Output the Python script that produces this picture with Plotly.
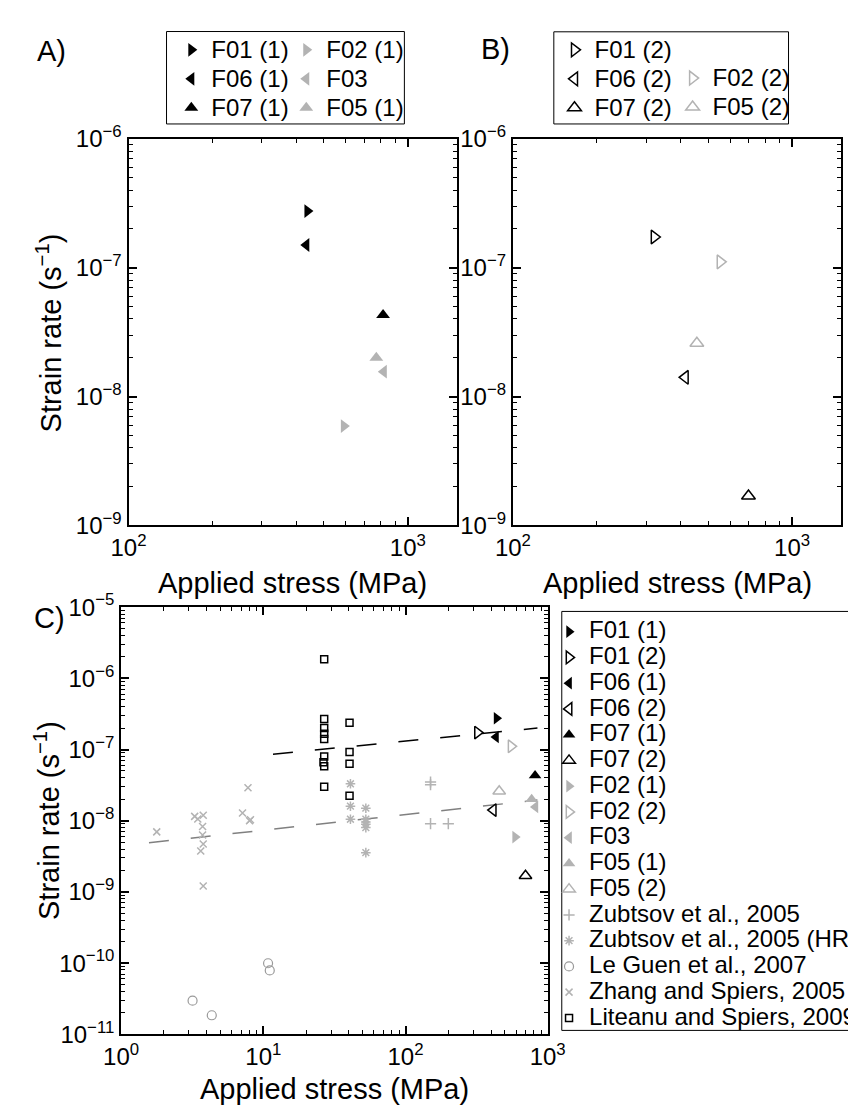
import math
import plotly.graph_objects as go

# ---- data ----
# this study, first and second runs: applied stress (MPa), strain rate (1/s)
stress_F01_1 = [437];  rate_F01_1 = [2.75e-7]
stress_F06_1 = [433];  rate_F06_1 = [1.50e-7]
stress_F07_1 = [815];  rate_F07_1 = [4.3e-8]
stress_F02_1 = [590];  rate_F02_1 = [5.9e-9]
stress_F03 = [820];    rate_F03 = [1.56e-8]
stress_F05_1 = [771];  rate_F05_1 = [2.0e-8]

stress_F01_2 = [321];  rate_F01_2 = [1.73e-7]
stress_F06_2 = [414];  rate_F06_2 = [1.41e-8]
stress_F07_2 = [698];  rate_F07_2 = [1.69e-9]
stress_F02_2 = [553];  rate_F02_2 = [1.11e-7]
stress_F05_2 = [456];  rate_F05_2 = [2.59e-8]

# literature data
zubtsov_stress = [150, 150, 150, 200]
zubtsov_rate = [3.5e-8, 3.2e-8, 9.1e-9, 9.1e-9]

zubtsov_hr_stress = [41, 41, 41, 52.6, 52.6, 52.6, 52.6, 52.6, 52.6]
zubtsov_hr_rate = [3.3e-8, 1.6e-8, 1.05e-8, 1.5e-8, 1.05e-8, 9.6e-9, 8.9e-9, 8.0e-9, 3.56e-9]

leguen_stress = [3.18, 4.34, 10.8, 11.1]
leguen_rate = [2.97e-11, 1.85e-11, 9.95e-11, 7.9e-11]

zhang_stress = [1.78, 3.29, 3.46, 3.78, 3.74, 3.74, 3.78, 3.63, 3.78, 7.14, 7.8, 8.12, 8.0]
zhang_rate = [6.97e-9, 1.15e-8, 1.06e-8, 1.19e-8, 8.3e-9, 6.3e-9, 4.7e-9, 3.75e-9,
              1.21e-9, 1.28e-8, 2.9e-8, 1.03e-8, 1.0e-8]

liteanu_stress = [26.8, 26.8, 26.8, 26.8, 26.8, 26.8, 26.5, 26.8, 26.8,
                  40.4, 40.4, 40.4, 40.4]
liteanu_rate = [1.85e-6, 2.68e-7, 2.0e-7, 1.67e-7, 1.40e-7, 8.0e-8, 6.6e-8, 5.8e-8, 3.0e-8,
                2.37e-7, 9.2e-8, 6.3e-8, 2.25e-8]

# dashed fit lines (end points)
fit_black_stress = [11.7, 847]
fit_black_rate = [8.6e-8, 2.0e-7]
fit_gray_stress = [1.57, 847]
fit_gray_rate = [4.9e-9, 1.95e-8]

# tick labels
ticks_ab_x = [100, 1000]
ticks_ab_y = [1e-9, 1e-8, 1e-7, 1e-6]
ticks_c_x = [1, 10, 100, 1000]
ticks_c_y = [1e-11, 1e-10, 1e-9, 1e-8, 1e-7, 1e-6, 1e-5]

# ---- styling ----
W, H = 856, 1111
FONT = "Liberation Sans"
GRAY = "#b3b3b3"
LGRAY = "#9a9a9a"


def px(x):
    return x / W


def py(y):
    return 1 - y / H


def pow_label(v):
    p = int(round(math.log10(v)))
    s = str(p).replace("-", "\u2212")
    return f"10<sup>{s}</sup>"


def lbl(name):
    # legend row spacing follows the legend font size, the text itself is drawn larger
    return f'<span style="font-size:24px">{name}</span>'


fig = go.Figure()


def add_pts(x, y, name, symbol, color, size, axis, legend, line_w=1.5, showlegend=True):
    fig.add_trace(go.Scatter(
        x=x, y=y, mode="markers", name=lbl(name),
        marker=dict(symbol=symbol, color=color, size=size,
                    line=dict(color=color, width=line_w)),
        xaxis="x" + axis, yaxis="y" + axis,
        legend=legend, showlegend=showlegend,
    ))


# panel A  (axes x / y)  -- two legend columns
add_pts(stress_F01_1, rate_F01_1, "F01 (1)", "triangle-right", "black", 12, "", "legend2", 0)
add_pts(stress_F06_1, rate_F06_1, "F06 (1)", "triangle-left", "black", 12, "", "legend2", 0)
add_pts(stress_F07_1, rate_F07_1, "F07 (1)", "triangle-up", "black", 12, "", "legend2", 0)
add_pts(stress_F02_1, rate_F02_1, "F02 (1)", "triangle-right", GRAY, 12, "", "legend3", 0)
add_pts(stress_F03, rate_F03, "F03", "triangle-left", GRAY, 12, "", "legend3", 0)
add_pts(stress_F05_1, rate_F05_1, "F05 (1)", "triangle-up", GRAY, 12, "", "legend3", 0)

# panel B  (axes x2 / y2)
add_pts(stress_F01_2, rate_F01_2, "F01 (2)", "triangle-right-open", "black", 12, "2", "legend4")
add_pts(stress_F06_2, rate_F06_2, "F06 (2)", "triangle-left-open", "black", 12, "2", "legend4")
add_pts(stress_F07_2, rate_F07_2, "F07 (2)", "triangle-up-open", "black", 12, "2", "legend4")
add_pts(stress_F02_2, rate_F02_2, "F02 (2)", "triangle-right-open", GRAY, 12, "2", "legend5")
add_pts(stress_F05_2, rate_F05_2, "F05 (2)", "triangle-up-open", GRAY, 12, "2", "legend5")

# panel C  (axes x3 / y3)
fig.add_trace(go.Scatter(x=fit_black_stress, y=fit_black_rate, mode="lines",
                         line=dict(color="black", width=1.5, dash="20px,22px"),
                         xaxis="x3", yaxis="y3", showlegend=False))
fig.add_trace(go.Scatter(x=fit_gray_stress, y=fit_gray_rate, mode="lines",
                         line=dict(color="#808080", width=1.5, dash="20px,22px"),
                         xaxis="x3", yaxis="y3", showlegend=False))

add_pts(stress_F01_1, rate_F01_1, "F01 (1)", "triangle-right", "black", 11, "3", "legend", 0)
add_pts(stress_F01_2, rate_F01_2, "F01 (2)", "triangle-right-open", "black", 11, "3", "legend")
add_pts(stress_F06_1, rate_F06_1, "F06 (1)", "triangle-left", "black", 11, "3", "legend", 0)
add_pts(stress_F06_2, rate_F06_2, "F06 (2)", "triangle-left-open", "black", 11, "3", "legend")
add_pts(stress_F07_1, rate_F07_1, "F07 (1)", "triangle-up", "black", 11, "3", "legend", 0)
add_pts(stress_F07_2, rate_F07_2, "F07 (2)", "triangle-up-open", "black", 11, "3", "legend")
add_pts(stress_F02_1, rate_F02_1, "F02 (1)", "triangle-right", GRAY, 11, "3", "legend", 0)
add_pts(stress_F02_2, rate_F02_2, "F02 (2)", "triangle-right-open", GRAY, 11, "3", "legend")
add_pts(stress_F03, rate_F03, "F03", "triangle-left", GRAY, 11, "3", "legend", 0)
add_pts(stress_F05_1, rate_F05_1, "F05 (1)", "triangle-up", GRAY, 11, "3", "legend", 0)
add_pts(stress_F05_2, rate_F05_2, "F05 (2)", "triangle-up-open", GRAY, 11, "3", "legend")
add_pts(zubtsov_stress, zubtsov_rate, "Zubtsov et al., 2005", "cross-thin", GRAY, 8, "3", "legend")
add_pts(zubtsov_hr_stress, zubtsov_hr_rate, "Zubtsov et al., 2005 (HR)", "asterisk", GRAY, 8, "3", "legend")
add_pts(leguen_stress, leguen_rate, "Le Guen et al., 2007", "circle-open", LGRAY, 9, "3", "legend", 1.2)
add_pts(zhang_stress, zhang_rate, "Zhang and Spiers, 2005", "x-thin", GRAY, 7, "3", "legend")
add_pts(liteanu_stress, liteanu_rate, "Liteanu and Spiers, 2009", "square-open", "black", 7, "3", "legend")

# ---- axes ----
def log_axis(rng, vals, dom, anchor):
    return dict(
        type="log", range=rng, domain=dom, anchor=anchor,
        tickmode="array", tickvals=vals, ticktext=[pow_label(v) for v in vals],
        showline=True, linecolor="black", linewidth=2, mirror="allticks",
        ticks="inside", ticklen=8, tickwidth=1.5, tickcolor="black",
        showgrid=False, zeroline=False,
        tickfont=dict(family=FONT, size=24, color="black"),
        minor=dict(tickmode="linear", dtick="D1", ticks="inside", ticklen=4,
                   tickwidth=1, tickcolor="black", showgrid=False),
    )


xr_ab = [2, math.log10(1500)]
yr_ab = [-9, -6]
dom_y_ab = [py(514.3), py(117)]

fig.update_layout(
    xaxis=log_axis(xr_ab, ticks_ab_x, [px(107), px(450)], "y"),
    yaxis=log_axis(yr_ab, ticks_ab_y, dom_y_ab, "x"),
    xaxis2=log_axis(xr_ab, ticks_ab_x, [px(508.3), px(851)], "y2"),
    yaxis2=log_axis(yr_ab, ticks_ab_y, dom_y_ab, "x2"),
    xaxis3=log_axis([0, 3], ticks_c_x, [px(99.3), px(544.6)], "y3"),
    yaxis3=log_axis([-11, -5], ticks_c_y, [py(1037.3), py(598.3)], "x3"),
)

# ---- legends ----
def leg(x, y, size):
    return dict(x=px(x), y=py(y), xanchor="left", yanchor="top",
                bgcolor="rgba(0,0,0,0)", borderwidth=0,
                font=dict(family=FONT, size=size, color="black"),
                tracegroupgap=0, itemclick=False)


fig.update_layout(
    legend=leg(546, 605.1, 17.5),
    legend2=leg(151.7, 5.5, 20),
    legend3=leg(271.7, 5.5, 20),
    legend4=leg(551.7, 5.5, 20),
    legend5=leg(675, 34.5, 20),
)

# legend boxes
for x0, y0, x1, y1 in [(146.7, 6.7, 395, 101.7), (551, 7, 796, 101.7), (559.3, 602.7, 880, 1033.3)]:
    fig.add_shape(type="rect", xref="paper", yref="paper",
                  x0=px(x0), x1=px(x1), y0=py(y1), y1=py(y0),
                  line=dict(color="black", width=1), fillcolor="rgba(0,0,0,0)")

# ---- titles / panel labels ----
def note(text, x, y, size=29, angle=0):
    fig.add_annotation(text=text, x=px(x), y=py(y), xref="paper", yref="paper",
                       showarrow=False, textangle=angle, xanchor="center", yanchor="middle",
                       font=dict(family=FONT, size=size, color="black"))


note("A)", 27, 27)
note("B)", 490, 25)
note("C)", 25, 609)
note("Applied stress (MPa)", 278.5, 573)
note("Applied stress (MPa)", 680, 573)
note("Applied stress (MPa)", 322, 1094)
note("Strain rate (s<sup>\u22121</sup>)", 24, 316, angle=-90)
note("Strain rate (s<sup>\u22121</sup>)", 22, 818, angle=-90)

fig.update_layout(
    width=W, height=H, autosize=False,
    margin=dict(l=0, r=0, t=0, b=0),
    paper_bgcolor="white", plot_bgcolor="white",
    showlegend=True,
)

fig.write_html("out.html")
